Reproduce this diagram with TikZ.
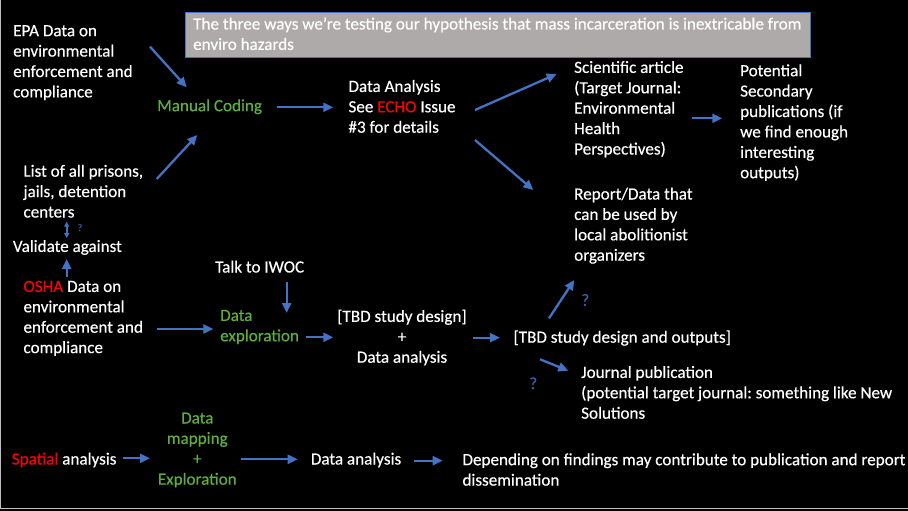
\documentclass[tikz,border=0pt]{standalone}
\usepackage{fontspec}
\setmainfont{Carlito}[FakeBold=0.4]
\usetikzlibrary{arrows.meta}
\frenchspacing
\definecolor{arrblue}{HTML}{4472C4}
\definecolor{qblue}{HTML}{3A5FA8}
\definecolor{grn}{HTML}{5FAE3E}
\definecolor{redt}{HTML}{FF0000}
\definecolor{boxgray}{HTML}{AEAAAA}
\definecolor{framegray}{HTML}{BFBFBF}
\newcommand{\ts}{\rule{0pt}{14pt}}
\tikzset{
  txt/.style={anchor=north west, inner sep=0pt, align=left, text=white,
    font=\fontsize{17.1}{20.4}\selectfont},
  ctxt/.style={txt, anchor=north, align=center},
  arr/.style={draw=arrblue, line width=2.3pt, -{Triangle[length=10pt,width=9pt]}},
  darr/.style={draw=arrblue, line width=1.6pt, {Triangle[length=5pt,width=5pt]}-{Triangle[length=5pt,width=5pt]}},
  qmark/.style={inner sep=0pt, text=qblue, font=\fontsize{17}{20}\selectfont},
  sqmark/.style={inner sep=0pt, text=qblue, font=\fontsize{10}{12}\selectfont},
}
\begin{document}
\begin{tikzpicture}[x=1pt,y=-1pt]
\useasboundingbox (0,0) rectangle (908,511);
\fill[black] (0,0) rectangle (908,511);
\draw[framegray, line width=1pt] (0.5,0) -- (0.5,508.5) -- (908,508.5);

% title box
\draw[fill=boxgray, draw=arrblue, line width=0.8pt] (185.7,12.7) rectangle (810.7,57);
\node[txt] (title) at (193,15.3) {\ts The three ways we’re testing our hypothesis that mass incarceration is inextricable from\\enviro hazards};

% left column
\node[txt] (epa) at (13,22) {\ts EPA Data on\\environmental\\enforcement and\\compliance};
\node[txt] (list) at (23.3,162.5) {\ts List of all prisons,\\jails, detention\\centers};
\node[txt] (validate) at (12.7,237.7) {\ts Validate against};
\node[txt] (osha) at (23.3,277.7) {\ts\textcolor{redt}{OSHA} Data on\\environmental\\enforcement and\\compliance};
\node[txt] (spatial) at (11.7,450.3) {\ts\textcolor{redt}{Spatial} analysis};

% row 1
\node[txt, text=grn] (manual) at (157,97) {\ts Manual Coding};
\node[txt] (dana) at (348.3,77.7) {\ts Data Analysis\\See \textcolor{redt}{ECHO} Issue\\\#3 for details};
\node[txt] (sci) at (574,58.7) {\ts Scientific article\\(Target Journal:\\Environmental\\Health\\Perspectives)};
\node[txt] (pot) at (740,62) {\ts Potential\\Secondary\\publications (if\\we find enough\\interesting\\outputs)};
\node[txt] (report) at (574,185.3) {\ts Report/Data that\\can be used by\\local abolitionist\\organizers};

% row 2
\node[txt] (talk) at (215,258.3) {\ts Talk to IWOC};
\node[txt, text=grn] (explore) at (220,306.7) {\ts Data\\exploration};
\node[ctxt] (tbd1) at (402,307.7) {\ts [TBD study design]\\+\\Data analysis};
\node[txt] (tbd2) at (513.3,328.5) {\ts [TBD study design and outputs]};
\node[txt] (journal) at (581,363.7) {\ts Journal publication\\(potential target journal: something like New\\Solutions};

% row 3
\node[ctxt, text=grn] (mapping) at (197.3,409.3) {\ts Data\\mapping\\+\\Exploration};
\node[txt] (dan2) at (310.7,450.3) {\ts Data analysis};
\node[txt] (dep) at (462.3,451) {\ts Depending on findings may contribute to publication and report\\dissemination};

% question marks
\node[sqmark] (q1) at (80,227.7) {?};
\node[qmark] (q2) at (585.3,300) {?};
\node[qmark] (q3) at (533.3,383.3) {?};

% connector end points
\coordinate (a1s) at (150,46.7);   \coordinate (a1e) at (186.7,87.3);
\coordinate (a2s) at (156.7,179);  \coordinate (a2e) at (197.3,135);
\coordinate (a3s) at (277.3,107.3);\coordinate (a3e) at (333.3,107.3);
\coordinate (a4s) at (475,110);    \coordinate (a4e) at (556.7,74);
\coordinate (a5s) at (475,140);    \coordinate (a5e) at (533.3,190);
\coordinate (a6s) at (692.3,118.3);\coordinate (a6e) at (722.3,118.3);
\coordinate (a7s) at (66.7,221.7); \coordinate (a7e) at (66.7,238);
\coordinate (a8s) at (66.7,277);   \coordinate (a8e) at (66.7,259);
\coordinate (a9s) at (157,329);    \coordinate (a9e) at (213.3,329);
\coordinate (a10s) at (286.7,282); \coordinate (a10e) at (286.7,313);
\coordinate (a11s) at (305.7,337.3);\coordinate (a11e) at (333.3,337.3);
\coordinate (a12s) at (472.7,337.7);\coordinate (a12e) at (500,337.7);
\coordinate (a13s) at (549,318.3); \coordinate (a13e) at (574.3,280);
\coordinate (a14s) at (540,359.3); \coordinate (a14e) at (568.3,370.7);
\coordinate (a15s) at (122.7,458.3);\coordinate (a15e) at (150,458.3);
\coordinate (a16s) at (241,459.3); \coordinate (a16e) at (297.7,459.3);
\coordinate (a17s) at (414.3,460.7);\coordinate (a17e) at (442.7,460.7);

\draw[arr] (a1s) -- (a1e);
\draw[arr] (a2s) -- (a2e);
\draw[arr] (a3s) -- (a3e);
\draw[arr] (a4s) -- (a4e);
\draw[arr] (a5s) -- (a5e);
\draw[arr] (a6s) -- (a6e);
\draw[darr] (a7s) -- (a7e);
\draw[arr] (a8s) -- (a8e);
\draw[arr] (a9s) -- (a9e);
\draw[arr] (a10s) -- (a10e);
\draw[arr] (a11s) -- (a11e);
\draw[arr] (a12s) -- (a12e);
\draw[arr] (a13s) -- (a13e);
\draw[arr] (a14s) -- (a14e);
\draw[arr] (a15s) -- (a15e);
\draw[arr] (a16s) -- (a16e);
\draw[arr] (a17s) -- (a17e);
\end{tikzpicture}
\end{document}
